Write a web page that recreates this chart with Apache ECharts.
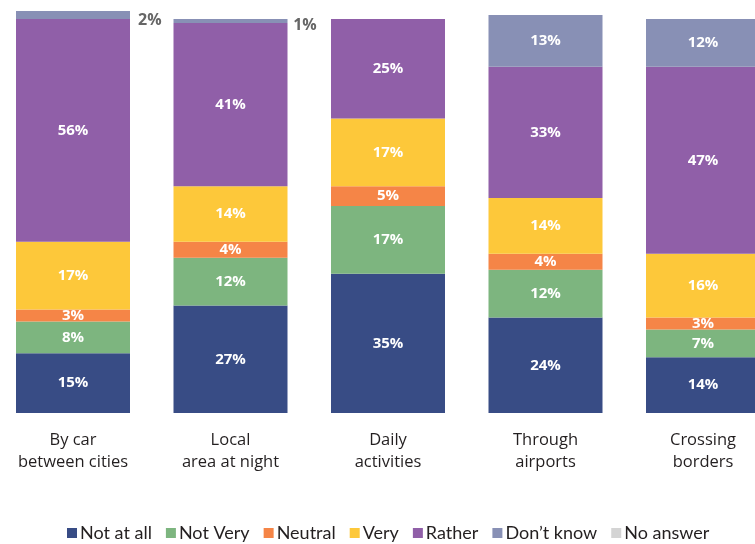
<!DOCTYPE html>
<html>
<head>
<meta charset="utf-8">
<script src="https://cdn.jsdelivr.net/npm/echarts@6/dist/echarts.min.js"></script>
<style>
  html, body { margin: 0; padding: 0; background: #fff; }
  #chart { width: 755px; height: 544px; }
</style>
</head>
<body>
<div id="chart"></div>
<script>
var categories = ['By car\nbetween cities', 'Local\narea at night', 'Daily\nactivities', 'Through\nairports', 'Crossing\nborders'];
var notAtAll  = [15, 27, 35, 24, 14];
var notVery   = [8, 12, 17, 12, 7];
var neutral   = [3, 4, 5, 4, 3];
var very      = [17, 14, 17, 14, 16];
var rather    = [56, 41, 25, 33, 47];
var dontKnow  = [2, 1, 0, 13, 12];
var noAnswer  = [0, 0, 0, 0, 0];

var colors = ['#384c85', '#7db57f', '#f58547', '#fdc83a', '#905fa8', '#8890b5', '#d4d4d4'];

function makeSeries(name, data, color) {
    return {
        name: name,
        type: 'bar',
        stack: 'total',
        barWidth: 114,
        clip: false,
        data: data,
        itemStyle: { color: color },
        label: {
            show: true,
            position: 'inside',
            color: '#fff',
            fontFamily: 'Open Sans',
            fontWeight: 'bold',
            fontSize: 15,
            formatter: function (p) { return p.value > 0 ? p.value + '%' : ''; }
        }
    };
}

// small "Don't know" slices get their label outside, to the right (grey)
var dkData = dontKnow.map(function (v) {
    if (v > 0 && v < 3) {
        return {
            value: v,
            label: {
                position: [v === 2 ? '107%' : '105%', v === 2 ? 9 : 6],
                align: 'left',
                verticalAlign: 'middle',
                color: '#666',
                fontSize: 16
            }
        };
    }
    return v;
});

var option = {
    animation: false,
    color: colors,
    grid: { left: -5.75, right: -26.75, top: 15, bottom: 131, outerBoundsMode: 'none', containLabel: false },
    legend: {
        top: 519,
        left: 62,
        itemWidth: 10,
        itemHeight: 10,
        itemGap: 14,
        icon: 'rect',
        textStyle: { fontFamily: 'Lato', fontSize: 18, color: '#231f20', padding: [0, 0, 0, -2] },
        data: ['Not at all', 'Not Very', 'Neutral', 'Very', 'Rather', 'Don\u2019t know', 'No answer']
    },
    xAxis: {
        type: 'category',
        data: categories,
        axisLine: { show: false },
        axisTick: { show: false },
        axisLabel: {
            margin: 16,
            fontFamily: 'Open Sans',
            fontSize: 16.5,
            lineHeight: 22,
            color: '#231f20'
        }
    },
    yAxis: {
        type: 'value',
        min: 0,
        max: 100,
        show: false
    },
    series: [
        makeSeries('Not at all', notAtAll, colors[0]),
        makeSeries('Not Very', notVery, colors[1]),
        makeSeries('Neutral', neutral, colors[2]),
        makeSeries('Very', very, colors[3]),
        makeSeries('Rather', rather, colors[4]),
        makeSeries('Don\u2019t know', dkData, colors[5]),
        makeSeries('No answer', noAnswer, colors[6])
    ]
};

echarts.init(document.getElementById('chart')).setOption(option);
</script>
</body>
</html>
